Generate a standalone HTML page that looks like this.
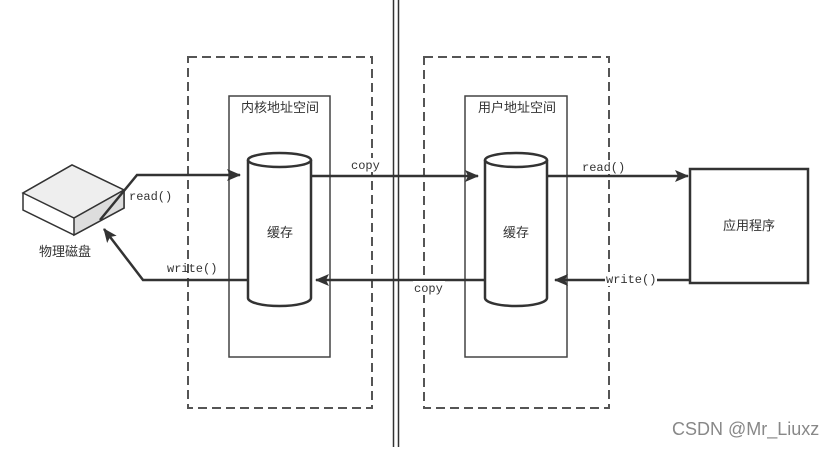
<!DOCTYPE html>
<html><head><meta charset="utf-8"><style>
html,body{margin:0;padding:0;background:#fff;}
svg text{font-family:"Liberation Sans","Noto Sans CJK SC",sans-serif;fill:#333;}
.m{font-family:"Liberation Mono","Noto Sans CJK SC",monospace !important;}
</style></head><body>
<svg width="836" height="447" viewBox="0 0 836 447" xmlns="http://www.w3.org/2000/svg">
<defs>
<marker id="b" markerWidth="14" markerHeight="12" refX="13" refY="6" orient="auto" markerUnits="userSpaceOnUse"><path d="M0,0 L14,6 L0,12 L3,6 Z" fill="#333"/></marker></defs>
<line x1="393.5" y1="0" x2="393.5" y2="447" stroke="#333" stroke-width="1.5"/>
<line x1="398.5" y1="0" x2="398.5" y2="447" stroke="#333" stroke-width="1.5"/>
<g fill="none" stroke="#555" stroke-width="2" stroke-dasharray="9,5">
<rect x="188" y="57" width="184" height="351"/>
<rect x="424" y="57" width="185" height="351"/>
</g>
<g fill="none" stroke="#444" stroke-width="1.5">
<rect x="229" y="96" width="101" height="261"/>
<rect x="465" y="96" width="102" height="261"/>
</g>
<text x="280" y="112" font-size="13" text-anchor="middle">内核地址空间</text>
<text x="517" y="112" font-size="13" text-anchor="middle">用户地址空间</text>
<g stroke="#333" stroke-width="2.5" fill="#fff">
<path d="M248,160 L248,298 A31.5,8 0 0 0 311,298 L311,160"/>
<ellipse cx="279.5" cy="160" rx="31.5" ry="7"/>
<path d="M485,160 L485,298 A31,8 0 0 0 547,298 L547,160"/>
<ellipse cx="516" cy="160" rx="31" ry="7"/>
</g>
<text x="280" y="237" font-size="13" text-anchor="middle">缓存</text>
<text x="516" y="237" font-size="13" text-anchor="middle">缓存</text>
<rect x="690" y="169" width="118" height="114" fill="#fff" stroke="#333" stroke-width="2.5"/>
<text x="749" y="230" font-size="13" text-anchor="middle">应用程序</text>
<path d="M23,193 L72,165 L124,190 L124,208 L74,235 L23,210 Z" fill="#fff" stroke="#333" stroke-width="1.5"/>
<path d="M23,193 L74,218 L124,190 L72,165 Z" fill="#eee" stroke="#333" stroke-width="1.5"/>
<path d="M74,218 L124,190 L124,208 L74,235 Z" fill="#ddd" stroke="#333" stroke-width="1.5"/>
<text x="65" y="256" font-size="13" text-anchor="middle">物理磁盘</text>
<g stroke="#333" stroke-width="2.5" fill="none">
<path d="M100,220 L137,175 L240,175" marker-end="url(#b)"/>
<path d="M311,176 L478,176" marker-end="url(#b)"/>
<path d="M547,176 L688,176" marker-end="url(#b)"/>
<path d="M689,280 L555,280" marker-end="url(#b)"/>
<path d="M485,280 L316,280" marker-end="url(#b)"/>
<path d="M248,280 L143,280 L104,229" marker-end="url(#b)"/>
</g>
<g font-size="12">
<rect x="128" y="188" width="44" height="14" fill="#fff"/>
<text class="m" x="129" y="200">read()</text>
<text class="m" x="167" y="272">write()</text>
<rect x="350" y="158" width="32" height="14" fill="#fff"/>
<text class="m" x="351" y="169">copy</text>
<rect x="413" y="281" width="32" height="14" fill="#fff"/>
<text class="m" x="414" y="292">copy</text>
<rect x="581" y="160" width="44" height="14" fill="#fff"/>
<text class="m" x="582" y="171">read()</text>
<rect x="605" y="272" width="52" height="14" fill="#fff"/>
<text class="m" x="606" y="283">write()</text>
</g>
<text x="672" y="435" font-size="18" style="fill:#888">CSDN @Mr_Liuxz</text>
</svg>
</body></html>
